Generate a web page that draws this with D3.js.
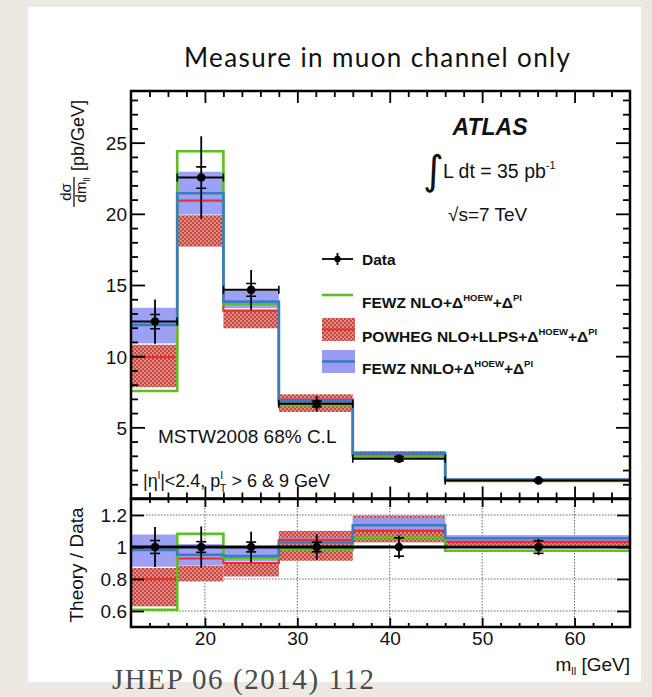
<!DOCTYPE html>
<html>
<head>
<meta charset="utf-8">
<script src="https://cdn.jsdelivr.net/npm/d3@7/dist/d3.min.js"></script>
<style>
  html, body { margin: 0; padding: 0; background: #ece9e3; }
  svg { display: block; }
</style>
</head>
<body>
<svg id="chart" width="652" height="697"></svg>
<script>
// Dimuon mass bins, m_ll [GeV]
const binEdges = [12, 17, 22, 28, 36, 46, 66];

// Measured cross section dσ/dm_ll [pb/GeV]
const dataX = [14.6, 19.6, 25.0, 32.1, 41.0, 56.1];
const dataY = [12.43, 22.55, 14.66, 6.65, 2.79, 1.27];
const dataErrTot = [1.55, 2.9, 1.4, 0.53, 0.2, 0.065];
const dataErrStat = [0.5, 0.75, 0.45, 0.2, 0.16, 0.05];

// FEWZ NLO + Δ^HOEW + Δ^PI
const fewzNlo = [7.55, 24.4, 13.65, 6.55, 2.95, 1.24];
// FEWZ NNLO + Δ^HOEW + Δ^PI with MSTW2008 68% C.L. band
const fewzNnlo = [12.2, 21.45, 13.83, 6.84, 3.17, 1.34];
const fewzNnloLo = [10.9, 19.95, 13.37, 6.77, 3.10, 1.305];
const fewzNnloHi = [13.4, 22.96, 14.6, 7.04, 3.30, 1.364];
// POWHEG NLO + LLPS + Δ^HOEW + Δ^PI with band
const powheg = [9.93, 20.93, 13.2, 6.95, 3.07, 1.31];
const powhegLo = [7.82, 17.7, 11.96, 6.08, 2.87, 1.283];
const powhegHi = [10.8, 19.9, 13.25, 7.32, 3.34, 1.334];

// Axis ticks
const topMajorTicks = [5, 10, 15, 20, 25];
const topMinorTicks = d3.range(1, 29).filter(v => v % 5 !== 0);
const xMajorTicks = [20, 30, 40, 50, 60];
const xMinorTicks = d3.range(14, 66, 2).filter(v => v % 10 !== 0);
const ratioTicks = [0.6, 0.8, 1.0, 1.2];

const GREEN = "#5cbf24";
const BLUE_LINE = "#3b7bc0";
const BLUE_BAND = "#989cf4";
const RED_LINE = "#e8302b";
const RED_HATCH = "#c9463f";
const FONT = "'Liberation Sans', Arial, Helvetica, sans-serif";

const svg = d3.select("#chart");

// page background and white sheet
svg.append("rect").attr("x", 0).attr("y", 0).attr("width", 652).attr("height", 697).attr("fill", "#ece9e3");
svg.append("rect").attr("x", 28).attr("y", 7).attr("width", 613).attr("height", 675).attr("fill", "#ffffff");

const defs = svg.append("defs");
const pat = defs.append("pattern").attr("id", "dots")
  .attr("patternUnits", "userSpaceOnUse").attr("width", 4).attr("height", 4);
pat.append("rect").attr("width", 4).attr("height", 4).attr("fill", RED_HATCH);
pat.append("circle").attr("cx", 1).attr("cy", 1).attr("r", 0.8).attr("fill", "#f7e6e4");
pat.append("circle").attr("cx", 3).attr("cy", 3).attr("r", 0.8).attr("fill", "#f7e6e4");

// scales
const x = d3.scaleLinear().domain([12, 66]).range([131, 630]);
const yTop = d3.scaleLinear().domain([0, 28.63]).range([498.5, 91]);
const yRat = d3.scaleLinear().domain([0.5, 1.3]).range([627, 499]);

defs.append("clipPath").attr("id", "clipTop").append("rect")
  .attr("x", x(12)).attr("y", yTop(28.63)).attr("width", x(66) - x(12)).attr("height", yTop(0) - yTop(28.63));
defs.append("clipPath").attr("id", "clipRat").append("rect")
  .attr("x", x(12)).attr("y", yRat(1.3)).attr("width", x(66) - x(12)).attr("height", yRat(0.5) - yRat(1.3));

const bins = d3.range(6);

function stepPath(yScale, values) {
  const pts = values.map((v, i) => [binEdges[i], v]);
  pts.push([binEdges[6], values[5]]);
  return d3.line().x(d => x(d[0])).y(d => yScale(d[1])).curve(d3.curveStepAfter)(pts);
}

function drawPanel(g, yScale, norm) {
  // POWHEG band
  g.selectAll(".pband").data(bins).join("rect")
    .attr("x", i => x(binEdges[i])).attr("width", i => x(binEdges[i + 1]) - x(binEdges[i]))
    .attr("y", i => yScale(powhegHi[i] / norm[i]))
    .attr("height", i => yScale(powhegLo[i] / norm[i]) - yScale(powhegHi[i] / norm[i]))
    .attr("fill", "url(#dots)");
  // FEWZ NNLO band
  g.selectAll(".bband").data(bins).join("rect")
    .attr("x", i => x(binEdges[i])).attr("width", i => x(binEdges[i + 1]) - x(binEdges[i]))
    .attr("y", i => yScale(fewzNnloHi[i] / norm[i]))
    .attr("height", i => yScale(fewzNnloLo[i] / norm[i]) - yScale(fewzNnloHi[i] / norm[i]))
    .attr("fill", BLUE_BAND).attr("opacity", 0.95);
  // central lines
  g.append("path").attr("d", stepPath(yScale, powheg.map((v, i) => v / norm[i])))
    .attr("fill", "none").attr("stroke", RED_LINE).attr("stroke-width", 2.2);
  g.append("path").attr("d", stepPath(yScale, fewzNlo.map((v, i) => v / norm[i])))
    .attr("fill", "none").attr("stroke", GREEN).attr("stroke-width", 2.6);
  g.append("path").attr("d", stepPath(yScale, fewzNnlo.map((v, i) => v / norm[i])))
    .attr("fill", "none").attr("stroke", BLUE_LINE).attr("stroke-width", 2.6);
}

// ---------- upper panel ----------
const gTop = svg.append("g").attr("clip-path", "url(#clipTop)");
drawPanel(gTop, yTop, bins.map(() => 1));

// data points
const gData = gTop.append("g").attr("stroke", "#000").attr("fill", "#000");
bins.forEach(i => {
  const cx = x(dataX[i]), cy = yTop(dataY[i]);
  gData.append("line").attr("x1", x(binEdges[i])).attr("x2", x(binEdges[i + 1]))
    .attr("y1", cy).attr("y2", cy).attr("stroke-width", 2);
  [binEdges[i], binEdges[i + 1]].forEach(e => {
    gData.append("line").attr("x1", x(e)).attr("x2", x(e))
      .attr("y1", cy - 4).attr("y2", cy + 4).attr("stroke-width", 1.6);
  });
  gData.append("line").attr("x1", cx).attr("x2", cx)
    .attr("y1", yTop(dataY[i] + dataErrTot[i])).attr("y2", yTop(dataY[i] - dataErrTot[i]))
    .attr("stroke-width", 1.8);
  [1, -1].forEach(s => {
    gData.append("line").attr("x1", cx - 5).attr("x2", cx + 5)
      .attr("y1", yTop(dataY[i] + s * dataErrStat[i])).attr("y2", yTop(dataY[i] + s * dataErrStat[i]))
      .attr("stroke-width", 1.6);
  });
  gData.append("circle").attr("cx", cx).attr("cy", cy).attr("r", 4.3).attr("stroke", "none");
});

// ---------- ratio panel ----------
const gRatGrid = svg.append("g").attr("stroke", "#666").attr("stroke-width", 1)
  .attr("stroke-dasharray", "1.5,1.5");
xMajorTicks.forEach(v => gRatGrid.append("line").attr("x1", x(v)).attr("x2", x(v))
  .attr("y1", yRat(1.3)).attr("y2", yRat(0.5)));
[0.6, 0.8, 1.2].forEach(v => gRatGrid.append("line").attr("x1", x(12)).attr("x2", x(66))
  .attr("y1", yRat(v)).attr("y2", yRat(v)));

const gRat = svg.append("g").attr("clip-path", "url(#clipRat)");
drawPanel(gRat, yRat, dataY);
gRat.append("line").attr("x1", x(12)).attr("x2", x(66)).attr("y1", yRat(1)).attr("y2", yRat(1))
  .attr("stroke", "#000").attr("stroke-width", 2.8);
const gRData = gRat.append("g").attr("stroke", "#000").attr("fill", "#000");
bins.forEach(i => {
  const cx = x(dataX[i]);
  const eT = dataErrTot[i] / dataY[i], eS = dataErrStat[i] / dataY[i];
  gRData.append("line").attr("x1", cx).attr("x2", cx)
    .attr("y1", yRat(1 + eT)).attr("y2", yRat(1 - eT)).attr("stroke-width", 1.8);
  [1, -1].forEach(s => gRData.append("line").attr("x1", cx - 5).attr("x2", cx + 5)
    .attr("y1", yRat(1 + s * eS)).attr("y2", yRat(1 + s * eS)).attr("stroke-width", 1.6));
  gRData.append("circle").attr("cx", cx).attr("cy", yRat(1)).attr("r", 4.3).attr("stroke", "none");
});

// ---------- axes ----------
function styleAxis(g) {
  g.select(".domain").remove();
  g.selectAll(".tick line").attr("stroke", "#000").attr("stroke-width", 1.8);
  g.selectAll("text").attr("font-family", FONT).attr("font-size", 19).attr("fill", "#111");
  return g;
}
// upper panel y
svg.append("g").attr("transform", `translate(${x(12)},0)`)
  .call(d3.axisLeft(yTop).tickValues(topMajorTicks).tickSize(-14).tickPadding(4).tickFormat(d3.format("d")))
  .call(styleAxis).selectAll("text").attr("dy", "0.36em");
svg.append("g").attr("transform", `translate(${x(12)},0)`)
  .call(d3.axisLeft(yTop).tickValues(topMinorTicks).tickSize(-7).tickFormat(""))
  .call(styleAxis);
svg.append("g").attr("transform", `translate(${x(66)},0)`)
  .call(d3.axisRight(yTop).tickValues(topMajorTicks).tickSize(-14).tickFormat(""))
  .call(styleAxis);
svg.append("g").attr("transform", `translate(${x(66)},0)`)
  .call(d3.axisRight(yTop).tickValues(topMinorTicks).tickSize(-7).tickFormat(""))
  .call(styleAxis);
// upper panel x (top and bottom edges)
svg.append("g").attr("transform", `translate(0,${yTop(28.63)})`)
  .call(d3.axisTop(x).tickValues(xMajorTicks).tickSize(-12).tickFormat("")).call(styleAxis);
svg.append("g").attr("transform", `translate(0,${yTop(28.63)})`)
  .call(d3.axisTop(x).tickValues(xMinorTicks).tickSize(-6).tickFormat("")).call(styleAxis);
svg.append("g").attr("transform", `translate(0,${yTop(0)})`)
  .call(d3.axisBottom(x).tickValues(xMajorTicks).tickSize(-12).tickFormat("")).call(styleAxis);
svg.append("g").attr("transform", `translate(0,${yTop(0)})`)
  .call(d3.axisBottom(x).tickValues(xMinorTicks).tickSize(-6).tickFormat("")).call(styleAxis);

// ratio panel axes
svg.append("g").attr("transform", `translate(${x(12)},0)`)
  .call(d3.axisLeft(yRat).tickValues(ratioTicks).tickSize(-13).tickPadding(4)
    .tickFormat(d => d === 1 ? "1" : d3.format(".1f")(d)))
  .call(styleAxis).selectAll("text").attr("dy", "0.36em");
svg.append("g").attr("transform", `translate(${x(66)},0)`)
  .call(d3.axisRight(yRat).tickValues(ratioTicks).tickSize(-13).tickFormat(""))
  .call(styleAxis);
svg.append("g").attr("transform", `translate(0,${yRat(0.5)})`)
  .call(d3.axisBottom(x).tickValues(xMajorTicks).tickSize(-9).tickPadding(5).tickFormat(d3.format("d")))
  .call(styleAxis);
svg.append("g").attr("transform", `translate(0,${yRat(0.5)})`)
  .call(d3.axisBottom(x).tickValues(xMinorTicks).tickSize(-4).tickFormat("")).call(styleAxis);
svg.append("g").attr("transform", `translate(0,${yRat(1.3)})`)
  .call(d3.axisTop(x).tickValues(xMajorTicks).tickSize(-8).tickFormat("")).call(styleAxis);
svg.append("g").attr("transform", `translate(0,${yRat(1.3)})`)
  .call(d3.axisTop(x).tickValues(xMinorTicks).tickSize(-4).tickFormat("")).call(styleAxis);

// frames
svg.append("rect").attr("x", x(12)).attr("y", yTop(28.63)).attr("width", x(66) - x(12))
  .attr("height", yTop(0) - yTop(28.63)).attr("fill", "none").attr("stroke", "#000").attr("stroke-width", 2.5);
svg.append("rect").attr("x", x(12)).attr("y", yRat(1.3)).attr("width", x(66) - x(12))
  .attr("height", yRat(0.5) - yRat(1.3)).attr("fill", "none").attr("stroke", "#000").attr("stroke-width", 2.5);

// ---------- texts ----------
const T = (px, py, size, opts = {}) => svg.append("text").attr("x", px).attr("y", py)
  .attr("font-family", opts.family || FONT).attr("font-size", size)
  .attr("font-weight", opts.weight || "normal").attr("font-style", opts.style || "normal")
  .attr("fill", opts.fill || "#111").attr("text-anchor", opts.anchor || "start");

T(377, 67, 26, { family: "Lato, 'Open Sans', sans-serif", anchor: "middle" })
  .attr("textLength", 386).text("Measure in muon channel only");

T(490, 135, 23, { weight: "bold", style: "italic", anchor: "middle" }).text("ATLAS");

T(423, 184, 40, { family: "'DejaVu Sans', sans-serif" }).text("∫");
const lumi = T(443, 178, 19.5);
lumi.append("tspan").text("L dt = 35 pb");
lumi.append("tspan").attr("font-size", 11).attr("dy", -9).text("-1");

T(448, 221, 19).text("√s=7 TeV");

T(158, 443, 19).text("MSTW2008 68% C.L");

const cut = T(143, 487, 18);
cut.append("tspan").text("|η");
cut.append("tspan").attr("font-size", 11).attr("dy", -8).text("l");
cut.append("tspan").attr("dy", 8).text("|<2.4, p");
cut.append("tspan").attr("font-size", 11).attr("dy", -8).text("l");
cut.append("tspan").attr("font-size", 11).attr("dx", -3).attr("dy", 13).text("T");
cut.append("tspan").attr("dy", -5).text(" > 6 & 9 GeV");

// legend
const lg = svg.append("g");
lg.append("line").attr("x1", 322).attr("x2", 353).attr("y1", 259).attr("y2", 259).attr("stroke", "#000").attr("stroke-width", 1.8);
lg.append("line").attr("x1", 337.5).attr("x2", 337.5).attr("y1", 253).attr("y2", 265).attr("stroke", "#000").attr("stroke-width", 1.8);
lg.append("circle").attr("cx", 337.5).attr("cy", 259).attr("r", 3.2).attr("fill", "#000");
lg.append("line").attr("x1", 322).attr("x2", 353).attr("y1", 295).attr("y2", 295).attr("stroke", GREEN).attr("stroke-width", 2.6);
lg.append("rect").attr("x", 322).attr("y", 318).attr("width", 33).attr("height", 23).attr("fill", "url(#dots)");
lg.append("line").attr("x1", 322).attr("x2", 355).attr("y1", 329.5).attr("y2", 329.5).attr("stroke", RED_LINE).attr("stroke-width", 2.2);
lg.append("rect").attr("x", 322).attr("y", 350).attr("width", 33).attr("height", 23).attr("fill", BLUE_BAND);
lg.append("line").attr("x1", 322).attr("x2", 355).attr("y1", 361.5).attr("y2", 361.5).attr("stroke", BLUE_LINE).attr("stroke-width", 2.6);

function legendText(py, pieces) {
  const t = T(362, py, 15.5, { weight: "bold" });
  pieces.forEach(([s, sup]) => {
    if (sup) t.append("tspan").attr("font-size", 9.5).attr("dy", -7).text(s);
    else t.append("tspan").attr("dy", t.node().childNodes.length ? 7 : 0).text(s);
  });
  return t;
}
T(362, 264.5, 15.5, { weight: "bold" }).text("Data");
legendText(300.5, [["FEWZ NLO+Δ", false], ["HOEW", true], ["+Δ", false], ["PI", true]]);
legendText(335, [["POWHEG NLO+LLPS+Δ", false], ["HOEW", true], ["+Δ", false], ["PI", true]]);
legendText(367, [["FEWZ  NNLO+Δ", false], ["HOEW", true], ["+Δ", false], ["PI", true]]);

// y axis title of the upper panel
const yt = svg.append("g").attr("transform", "translate(84,0) rotate(-90)")
  .attr("font-family", FONT).attr("fill", "#111");
yt.append("text").attr("x", -192).attr("y", -13).attr("font-size", 15).attr("text-anchor", "middle").text("dσ");
yt.append("line").attr("x1", -207).attr("x2", -177).attr("y1", -10).attr("y2", -10).attr("stroke", "#111").attr("stroke-width", 1.3);
const den = yt.append("text").attr("x", -190).attr("y", 2).attr("font-size", 15).attr("text-anchor", "middle");
den.append("tspan").text("dm");
den.append("tspan").attr("font-size", 9).attr("dy", 4).text("ll");
yt.append("text").attr("x", -171).attr("y", 0).attr("font-size", 18).text("[pb/GeV]");

// y axis title of the ratio panel
svg.append("g").attr("transform", "translate(83,565) rotate(-90)")
  .append("text").attr("text-anchor", "middle").attr("font-family", FONT).attr("font-size", 19)
  .attr("fill", "#111").text("Theory / Data");

// x axis title
const xt = T(630, 671, 19, { anchor: "end" });
xt.append("tspan").text("m");
xt.append("tspan").attr("font-size", 11).attr("dy", 4).text("ll");
xt.append("tspan").attr("dy", -4).text(" [GeV]");

// reference
T(112, 689, 29, { family: "'Liberation Serif', 'DejaVu Serif', serif", fill: "#4a4a4a" })
  .attr("textLength", 262).text("JHEP 06 (2014) 112");
</script>
</body>
</html>
